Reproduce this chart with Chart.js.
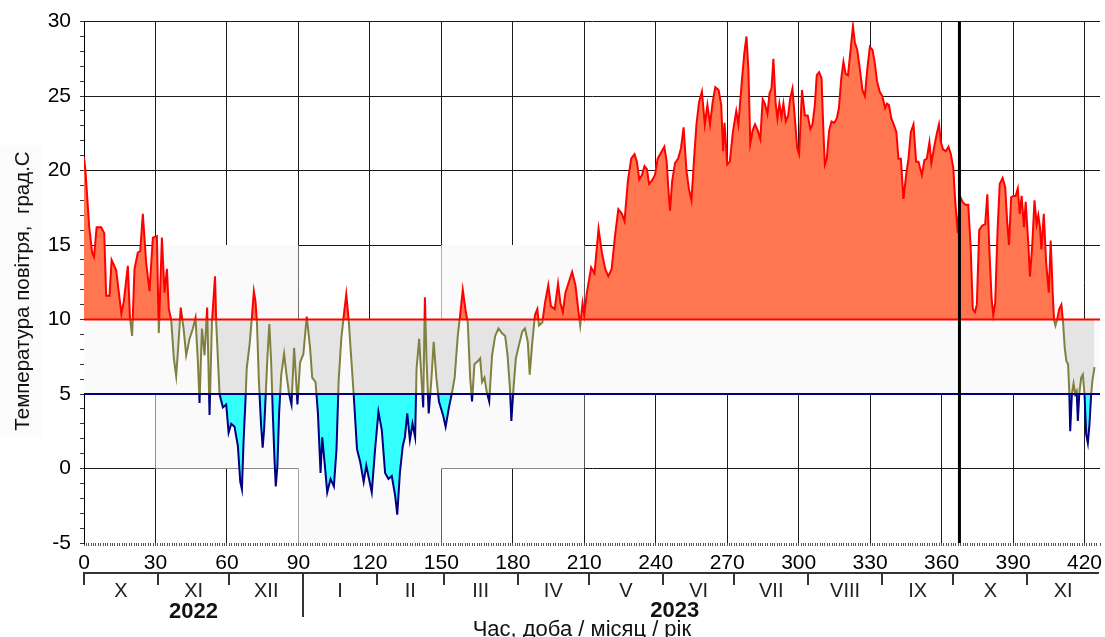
<!DOCTYPE html>
<html>
<head>
<meta charset="utf-8">
<title>Температура повітря</title>
<script src="https://cdn.jsdelivr.net/npm/chart.js@4.4.0/dist/chart.umd.min.js"></script>
<style>
  html, body { margin: 0; padding: 0; background: #fff; overflow: hidden; }
</style>
</head>
<body>
<canvas id="tempChart" width="1105" height="637"></canvas>
<script>
// доба від 1 жовтня 2022 -> середня температура
const days = [
  0, 0.6, 2.2, 3.4, 4.2, 5.3, 7.2, 8.5, 9.3, 10.7, 11.6, 13.5, 15.7, 16.7, 18.4, 19.3, 20.2, 21.2, 22.6, 23.6,
  24.7, 26.1, 27.5, 28.9, 30.6, 31.4, 32.7, 33.8, 34.8, 35.6, 36.6, 37.7, 38.7, 39.7, 40.6, 41.8, 42.9, 44.3, 45.7, 46.8,
  47.8, 48.5, 49.5, 50.6, 51.7, 52.7, 53.7, 55.0, 55.5, 56.9, 58.3, 59.7, 60.7, 61.8, 63.2, 64.6, 65.6, 66.3, 67.0, 67.8,
  68.3, 69.5, 70.5, 71.3, 72.0, 72.6, 73.4, 74.3, 75.0, 75.6, 76.3, 77.0, 77.8, 78.6, 79.3, 80.0, 80.5, 81.2, 81.9, 82.8,
  84.0, 85.0, 86.1, 87.1, 88.2, 88.9, 89.6, 90.7, 92.1, 93.5, 94.9, 95.8, 97.2, 98.2, 99.3, 100.0, 101.0, 102.1, 103.5, 104.9,
  106.0, 106.9, 108.0, 109.0, 110.1, 111.1, 112.1, 113.2, 114.6, 116.0, 117.4, 118.5, 119.4, 120.8, 122.2, 123.6, 125.0, 126.4, 127.8, 129.2,
  130.6, 131.5, 132.6, 133.8, 134.7, 135.7, 136.8, 137.9, 139.0, 139.6, 140.7, 141.7, 142.4, 143.1, 143.8, 144.7, 145.8, 146.8, 147.9, 149.0,
  150.7, 151.8, 153.2, 154.6, 155.6, 156.9, 157.9, 159.0, 160.1, 161.1, 162.1, 162.9, 163.9, 165.3, 166.3, 167.1, 168.1, 169.0, 170.1, 171.3,
  172.6, 174.0, 175.4, 176.8, 177.8, 178.8, 179.4, 180.3, 181.3, 182.6, 184.0, 185.1, 186.3, 187.1, 188.2, 189.3, 190.3, 191.0, 192.4, 193.5,
  194.9, 196.0, 197.6, 199.0, 200.0, 201.0, 202.1, 203.5, 204.9, 206.3, 207.6, 208.3, 209.3, 210.0, 211.1, 212.9, 214.3, 216.0, 217.4, 218.8,
  220.1, 221.5, 222.9, 224.3, 225.8, 226.9, 228.3, 229.7, 231.1, 232.1, 233.1, 234.2, 235.3, 236.3, 237.2, 238.3, 239.7, 240.8, 242.2, 243.6,
  244.6, 245.3, 246.0, 246.9, 248.1, 249.4, 250.6, 251.7, 252.9, 253.9, 255.0, 256.1, 257.1, 258.2, 259.4, 260.6, 261.7, 262.8, 263.9, 265.0,
  266.4, 267.5, 268.3, 268.9, 270.0, 271.1, 272.4, 273.8, 274.7, 276.1, 277.2, 278.1, 278.9, 279.7, 280.7, 281.7, 282.8, 283.9, 284.9, 285.8,
  286.9, 287.8, 288.6, 289.4, 290.3, 291.1, 291.9, 292.8, 293.6, 294.6, 295.6, 296.4, 297.4, 298.3, 299.4, 300.2, 301.4, 302.6, 303.8, 304.9,
  305.8, 306.8, 307.6, 308.6, 309.6, 310.4, 311.0, 311.8, 312.8, 313.8, 314.9, 316.0, 316.9, 317.9, 318.8, 319.7, 320.7, 321.8, 322.8, 323.6,
  324.6, 325.7, 326.8, 327.8, 328.8, 329.9, 331.0, 331.9, 332.9, 334.0, 335.1, 336.3, 337.1, 337.9, 338.9, 339.9, 341.0, 341.9, 342.9, 344.0,
  345.1, 346.1, 347.1, 348.2, 349.3, 350.3, 351.7, 352.8, 353.8, 354.9, 355.7, 356.8, 357.9, 358.9, 359.7, 360.7, 361.8, 362.9, 363.9, 364.9,
  365.7, 366.8, 367.7, 368.8, 370.0, 371.2, 372.2, 373.1, 374.0, 374.8, 375.8, 377.0, 378.3, 379.2, 380.0, 381.0, 381.7, 382.5, 383.5, 384.4,
  385.6, 386.7, 387.6, 388.3, 389.2, 390.1, 391.1, 392.0, 392.8, 393.6, 394.6, 395.3, 396.4, 397.1, 398.1, 399.0, 399.9, 400.6, 401.3, 401.9,
  402.9, 403.9, 405.0, 405.8, 406.7, 407.2, 407.8, 408.5, 409.4, 410.3, 411.0, 411.7, 412.4, 413.1, 413.6, 414.0, 414.7, 415.4, 416.1, 416.7,
  417.2, 417.8, 418.6, 419.3, 420.0, 420.7, 421.4, 422.1, 422.8, 423.3, 424.2
];
const temps = [
  20.9, 20.0, 16.2, 14.5, 14.2, 16.2, 16.2, 15.8, 11.6, 11.6, 14.0, 13.3, 10.4, 11.2, 13.6, 10.1, 8.9, 13.4, 14.5, 14.6,
  17.1, 13.8, 11.9, 15.5, 15.6, 9.1, 15.5, 11.8, 13.4, 10.7, 10.0, 7.4, 6.2, 8.5, 10.8, 9.4, 7.6, 8.7, 9.4, 10.1,
  7.2, 4.4, 9.4, 7.6, 10.8, 3.6, 9.8, 12.9, 9.8, 5.0, 4.1, 4.3, 2.4, 3.0, 2.8, 1.5, -0.9, -1.4, 1.9, 4.6,
  6.7, 8.3, 10.2, 11.9, 11.2, 9.8, 5.9, 3.0, 1.4, 2.6, 5.0, 7.5, 9.7, 7.0, 3.5, 0.5, -1.2, 0.2, 3.7, 6.3,
  7.7, 6.3, 5.0, 4.3, 8.1, 6.3, 4.3, 7.1, 7.7, 10.2, 8.1, 6.1, 5.8, 3.7, -0.3, 2.1, 0.4, -1.6, -0.7, -1.2,
  1.3, 5.9, 8.7, 10.2, 11.7, 10.0, 7.6, 5.0, 1.3, 0.4, -0.9, 0.2, -0.5, -1.6, 1.3, 3.8, 2.6, -0.3, -0.7, -0.5,
  -1.8, -3.1, -0.3, 1.5, 2.1, 3.7, 1.9, 3.0, 2.1, 6.7, 8.7, 5.9, 4.1, 11.5, 7.2, 3.7, 5.9, 8.5, 6.1, 4.5,
  3.6, 2.8, 4.1, 5.2, 6.1, 8.9, 10.3, 12.0, 10.7, 9.8, 6.1, 4.5, 7.0, 7.2, 7.4, 5.8, 6.1, 5.2, 4.5, 7.6,
  8.9, 9.4, 9.1, 8.9, 7.6, 5.4, 3.2, 5.4, 7.4, 8.3, 9.2, 9.4, 8.5, 6.3, 8.5, 10.3, 10.7, 9.6, 9.8, 11.1,
  12.3, 10.9, 10.7, 12.4, 11.1, 10.5, 11.8, 12.5, 13.2, 12.3, 10.5, 9.6, 11.1, 10.3, 11.8, 13.5, 13.1, 16.1, 14.5, 13.4,
  12.9, 13.4, 15.6, 17.4, 17.1, 16.6, 19.3, 20.8, 21.1, 20.6, 19.4, 19.7, 20.3, 20.1, 19.1, 19.3, 19.7, 20.8, 21.2, 21.6,
  20.6, 18.8, 17.3, 19.3, 20.5, 20.8, 21.5, 22.9, 20.0, 18.8, 18.0, 20.8, 23.1, 24.6, 25.3, 23.1, 24.4, 23.1, 24.6, 25.6,
  25.4, 24.4, 21.3, 23.2, 20.4, 20.6, 22.6, 24.0, 23.1, 25.9, 27.9, 29.0, 26.8, 21.8, 22.7, 23.1, 22.7, 22.1, 24.8, 24.5,
  23.8, 25.2, 25.5, 27.5, 24.6, 23.5, 24.5, 23.6, 24.5, 23.3, 23.7, 24.8, 25.5, 23.7, 21.5, 21.1, 25.4, 23.7, 23.7, 22.8,
  23.1, 24.4, 26.4, 26.6, 26.2, 22.6, 20.4, 20.8, 22.7, 23.3, 23.2, 23.5, 24.2, 26.2, 27.3, 26.5, 26.4, 28.1, 29.7, 28.6,
  28.1, 26.8, 25.4, 25.0, 26.8, 28.3, 28.1, 27.3, 26.0, 25.3, 25.0, 24.2, 24.5, 24.4, 23.5, 23.1, 22.6, 20.8, 20.8, 18.1,
  19.7, 20.8, 22.6, 23.1, 20.6, 20.6, 19.7, 20.7, 20.8, 21.9, 20.5, 21.5, 22.4, 23.1, 21.9, 21.4, 21.3, 21.6, 21.1, 20.2,
  18.0, 15.8, 18.3, 17.9, 17.7, 17.7, 14.9, 10.7, 10.5, 11.0, 16.0, 16.3, 16.4, 18.4, 14.9, 11.4, 10.3, 11.1, 16.0, 19.1,
  19.5, 18.9, 16.4, 15.0, 18.2, 18.3, 18.3, 18.8, 17.1, 18.3, 16.2, 17.9, 15.1, 12.9, 15.1, 18.0, 16.4, 17.0, 16.2, 14.7,
  17.1, 13.8, 11.8, 15.3, 11.6, 10.0, 9.6, 10.0, 10.7, 11.0, 9.8, 8.1, 7.2, 7.0, 5.2, 2.5, 5.0, 5.7, 5.0, 5.2,
  3.2, 5.0, 6.1, 6.3, 5.0, 2.3, 1.7, 3.0, 5.0, 5.9, 6.8
];

// пороги
const warmLimit = 10;
const coldLimit = 5;
const markerDay = 367.5;

// фонова смуга (норма)
const normEdges = [0, 30, 90, 150, 210, 426.5];
const normLow = [5, 0, -5, 0, 5, 5];
const normHigh = [10, 15, 10, 15, 10, 10];

// нижня вісь: місяці / роки
const monthStarts = [0, 31, 61, 92, 123, 151, 182, 212, 243, 273, 304, 335, 365, 396, 426];
const monthNames = ["X", "XI", "XII", "I", "II", "III", "IV", "V", "VI", "VII", "VIII", "IX", "X", "XI"];
const yearNames = ["2022", "2023"];
const yearStart = 92;

const FONT = '"Liberation Sans", Arial, sans-serif';
const COLORS = {
  red: "#ff0000",
  coral: "#ff7650",
  gray: "#e4e4e4",
  olive: "#808040",
  cyan: "#33ffff",
  navy: "#000080",
  band: "#fafafa"
};

const series = days.map((d, i) => ({ x: d, y: temps[i] }));
const stepSeries = (vals) => normEdges.map((d, i) => ({ x: d, y: vals[i] }));

// обрізка лінії по смузі температур
const bandClip = {
  id: "bandClip",
  beforeDatasetDraw(chart, args) {
    const ds = chart.data.datasets[args.index];
    if (!ds.band) return;
    const { ctx, chartArea: a, scales: { y } } = chart;
    const top = y.getPixelForValue(ds.band[1]);
    const bot = y.getPixelForValue(ds.band[0]);
    ctx.save();
    ctx.beginPath();
    ctx.rect(a.left - 5, top, a.width + 10, bot - top);
    ctx.clip();
  },
  afterDatasetDraw(chart, args) {
    if (chart.data.datasets[args.index].band) chart.ctx.restore();
  }
};

const axisExtras = {
  id: "axisExtras",
  beforeDraw(chart) {
    const ctx = chart.ctx;
    ctx.save();
    ctx.fillStyle = "#fbfbfb";
    ctx.fillRect(0, 145, 42, 292);
    ctx.restore();
  },
  afterDraw(chart) {
    const { ctx, scales: { x } } = chart;
    const px = (d) => Math.round(x.getPixelForValue(d));
    const lineY = 573;
    ctx.save();
    ctx.strokeStyle = "#333";
    ctx.lineWidth = 2;
    ctx.beginPath();
    ctx.moveTo(px(0) - 1, lineY);
    ctx.lineTo(px(monthStarts[monthStarts.length - 1]), lineY);
    ctx.stroke();
    monthStarts.slice(0, -1).forEach((d) => {
      ctx.beginPath();
      ctx.moveTo(px(d), lineY);
      ctx.lineTo(px(d), d === yearStart ? 617 : 585);
      ctx.stroke();
    });

    ctx.fillStyle = "#222";
    ctx.textAlign = "center";
    ctx.textBaseline = "middle";
    ctx.font = "20px " + FONT;
    monthNames.forEach((m, i) => {
      ctx.fillText(m, x.getPixelForValue((monthStarts[i] + monthStarts[i + 1]) / 2), 591);
    });

    ctx.fillStyle = "#111";
    ctx.font = "bold 22px " + FONT;
    ctx.fillText(yearNames[0], x.getPixelForValue(46), 612);
    ctx.fillText(yearNames[1], x.getPixelForValue(248), 611);

    ctx.font = "22px " + FONT;
    ctx.textBaseline = "alphabetic";
    ctx.fillText("Час, доба / місяц / рік", x.getPixelForValue(209), 636);

    ctx.translate(23, 291);
    ctx.rotate(-Math.PI / 2);
    ctx.textBaseline = "middle";
    ctx.font = "20.5px " + FONT;
    ctx.fillText("Температура повітря,  град.С", 0, 0);
    ctx.restore();
  }
};

const lineDs = (color, band, order) => ({
  data: series, borderColor: color, borderWidth: 2, fill: false, band, order
});

new Chart(document.getElementById("tempChart"), {
  type: "line",
  data: {
    datasets: [
      { data: [{ x: markerDay, y: -5 }, { x: markerDay, y: 30 }], borderColor: "#000", borderWidth: 3, fill: false, order: 1 },
      { data: [{ x: 0, y: warmLimit }, { x: 426.5, y: warmLimit }], borderColor: COLORS.red, borderWidth: 2, fill: false, order: 2 },
      { data: [{ x: 0, y: coldLimit }, { x: 426.5, y: coldLimit }], borderColor: COLORS.navy, borderWidth: 2, fill: false, order: 3 },
      lineDs(COLORS.red, [warmLimit, 99], 4),
      lineDs(COLORS.navy, [-99, coldLimit], 5),
      lineDs(COLORS.olive, [coldLimit, warmLimit], 6),
      {
        data: series, borderWidth: 0, borderColor: "rgba(0,0,0,0)", order: 7,
        fill: { target: { value: coldLimit }, above: "rgba(0,0,0,0)", below: COLORS.cyan }
      },
      {
        data: series, borderWidth: 0, borderColor: "rgba(0,0,0,0)", order: 8,
        fill: { target: { value: warmLimit }, above: COLORS.coral, below: COLORS.gray }
      },
      {
        data: stepSeries(normHigh), stepped: "before", borderWidth: 0, borderColor: "rgba(0,0,0,0)",
        backgroundColor: COLORS.band, fill: "+1", order: 9
      },
      {
        data: stepSeries(normLow), stepped: "before", borderWidth: 0, borderColor: "rgba(0,0,0,0)",
        fill: false, order: 10
      }
    ]
  },
  options: {
    responsive: false,
    animation: false,
    events: [],
    layout: { padding: { top: 15, right: 2, left: 0, bottom: 0 } },
    elements: { point: { radius: 0 }, line: { tension: 0 } },
    plugins: { legend: { display: false }, tooltip: { enabled: false } },
    scales: {
      x: {
        type: "linear",
        min: 0,
        max: 426.5,
        z: 1,
        border: { display: false },
        grid: {
          color: (c) => (c.tick && c.tick.value % 30 === 0 ? "#1a1a1a" : "rgba(0,0,0,0)"),
          tickColor: "#555",
          tickLength: 3
        },
        ticks: {
          stepSize: 1,
          autoSkip: false,
          maxRotation: 0,
          padding: 5,
          color: "#000",
          font: { family: FONT, size: 21 },
          callback: (v) => (v % 30 === 0 ? String(v) : "")
        },
        afterFit: (s) => { s.height = 94; }
      },
      y: {
        min: -5,
        max: 30,
        z: 1,
        border: { display: true, color: "#000", width: 1 },
        grid: {
          color: (c) => (c.tick && c.tick.value % 5 === 0 && c.tick.value > -5 ? "#1a1a1a" : "rgba(0,0,0,0)"),
          tickColor: "#333",
          tickLength: 4
        },
        ticks: {
          stepSize: 1,
          autoSkip: false,
          padding: 9,
          color: "#000",
          font: { family: FONT, size: 21 },
          callback: (v) => (v % 5 === 0 ? String(v) : "")
        },
        afterFit: (s) => { s.width = 84; }
      }
    }
  },
  plugins: [bandClip, axisExtras]
});
</script>
</body>
</html>
